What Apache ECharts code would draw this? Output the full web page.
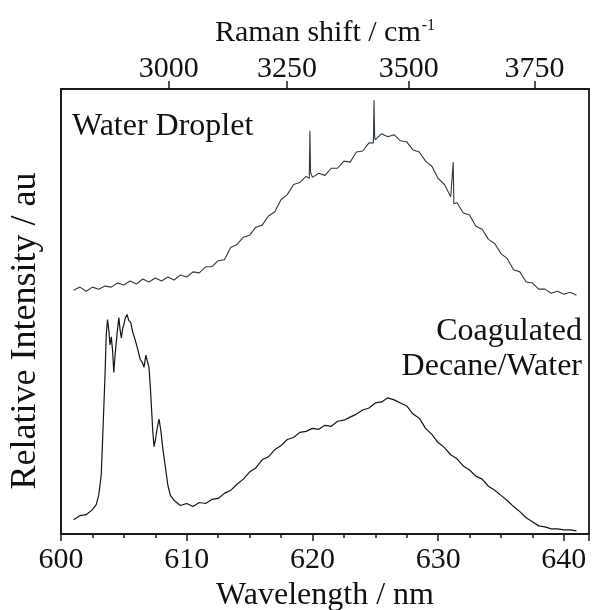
<!DOCTYPE html>
<html>
<head>
<meta charset="utf-8">
<script src="https://cdn.jsdelivr.net/npm/echarts@6/dist/echarts.min.js"></script>
<style>html,body{margin:0;padding:0;background:#fff}#c{width:593px;height:610px}</style>
</head>
<body>
<div id="c"></div>
<script>
// Water droplet spectrum (wavelength nm, relative intensity)
var waterWl = [601.0,601.5,602.0,602.5,603.0,603.5,604.0,604.5,605.0,605.5,606.0,606.5,607.0,607.5,608.0,608.5,609.0,609.5,610.0,610.5,611.0,611.5,612.0,612.5,613.0,613.5,614.0,614.5,615.0,615.5,616.0,616.5,617.0,617.5,618.0,618.5,619.0,619.5,619.75,619.8,619.85,620.0,620.5,621.0,621.5,622.0,622.5,623.0,623.5,624.0,624.5,624.85,624.9,624.95,625.0,625.5,626.0,626.5,627.0,627.5,628.0,628.5,629.0,629.5,630.0,630.5,631.0,631.15,631.2,631.25,631.5,632.0,632.5,633.0,633.5,634.0,634.5,635.0,635.5,636.0,636.5,637.0,637.5,638.0,638.5,639.0,639.5,640.0,640.5,641.0];
var waterI  = [240,243,239,243,241,244,243,247,245,249,246,251,248,252,249,253,250,255,253,258,257,263,263,269,270,282,285,292,294,302,304,313,317,329,334,344,346,352,350,397,356,351,355,353,360,360,367,366,376,377,385,385,427,391,388,394,391,393,387,386,378,376,367,362,350,344,332,333,366,325,326,316,314,303,300,290,286,276,271,260,258,248,247,241,241,237,239,236,238,235];
// Coagulated decane/water spectrum
var coagWl = [601.0,601.5,602.0,602.5,602.8,603.0,603.2,603.35,603.5,603.6,603.7,603.8,603.9,604.0,604.1,604.2,604.3,604.45,604.6,604.7,604.8,604.9,605.0,605.1,605.25,605.4,605.55,605.7,605.9,606.1,606.3,606.5,606.6,606.75,606.85,607.0,607.1,607.2,607.3,607.4,607.5,607.65,607.8,607.95,608.1,608.3,608.5,608.7,609.0,609.5,610.0,610.5,611.0,611.5,612.0,612.5,613.0,613.5,614.0,614.5,615.0,615.5,616.0,616.5,617.0,617.5,618.0,618.5,619.0,619.5,620.0,620.5,621.0,621.5,622.0,622.5,623.0,623.5,624.0,624.5,625.0,625.5,626.0,626.5,627.0,627.5,628.0,628.5,629.0,629.5,630.0,630.5,631.0,631.5,632.0,632.5,633.0,633.5,634.0,634.5,635.0,635.5,636.0,636.5,637.0,637.5,638.0,638.5,639.0,639.5,640.0,640.5,641.0];
var coagI  = [14,18,19,24,29,38,58,106,156,196,211,201,186,194,181,159,176,196,213,201,193,202,206,212,216,210,208,199,191,182,172,168,164,176,171,164,146,124,101,86,92,104,113,101,84,66,48,38,33,28,30,27,31,30,34,35,40,43,49,54,61,65,73,76,83,87,93,95,100,101,104,103,107,106,111,112,115,118,122,124,129,130,134,132,129,126,118,114,104,98,90,85,78,74,67,63,57,54,47,43,38,33,27,22,16,12,8,7,5,5,4,4,3];
// Axis ticks
var ramanTicks = [3000, 3250, 3500, 3750];
var laserWavenumber = 19432; // cm-1, excitation

function pairs(x, y) { return x.map(function (v, i) { return [v, y[i]]; }); }
var ramanPos = ramanTicks.map(function (r) { return 1e7 / (laserWavenumber - r); });

var FONT = "'Liberation Serif','Times New Roman',serif";
var AX = '#1a1a1a';
var chart = echarts.init(document.getElementById('c'), null, { renderer: 'canvas' });
chart.setOption({
  animation: false,
  backgroundColor: '#fff',
  grid: { left: 61, right: 4, top: 89, bottom: 76, outerBoundsMode: 'none', containLabel: false,
          show: true, borderColor: AX, borderWidth: 1.8, backgroundColor: 'transparent' },
  xAxis: [{
    type: 'value', min: 600, max: 642, interval: 10, position: 'bottom',
    name: 'Wavelength / nm', nameLocation: 'middle', nameGap: 43,
    nameTextStyle: { fontFamily: FONT, fontSize: 32, color: '#111' },
    axisLine: { show: true, lineStyle: { color: AX, width: 1.8 } },
    axisTick: { show: true, length: 7, lineStyle: { color: AX, width: 1.5 } },
    minorTick: { show: true, splitNumber: 4, length: 4, lineStyle: { color: AX, width: 1.5 } },
    axisLabel: { fontFamily: FONT, fontSize: 30, color: '#111', margin: 11, showMaxLabel: false },
    splitLine: { show: false }
  }, {
    type: 'value', min: 600, max: 642, position: 'top',
    name: '{a|Raman shift / cm}{s|-1}', nameLocation: 'middle', nameGap: 41,
    nameTextStyle: { fontFamily: FONT, fontSize: 30, color: '#111',
      rich: { a: { fontFamily: FONT, fontSize: 30, color: '#111' },
              s: { fontFamily: FONT, fontSize: 16, color: '#111', verticalAlign: 'top', padding: [0, 0, 0, 1] } } },
    axisLine: { show: true, lineStyle: { color: AX, width: 1.8 } },
    axisTick: { show: true, length: 8, customValues: ramanPos, lineStyle: { color: AX, width: 1.5 } },
    axisLabel: { fontFamily: FONT, fontSize: 30, color: '#111', margin: 5, customValues: ramanPos,
      formatter: function (v) { return String(Math.round(laserWavenumber - 1e7 / v)); } },
    splitLine: { show: false }
  }],
  yAxis: {
    type: 'value', min: 0, max: 438,
    axisLine: { show: true, lineStyle: { color: AX, width: 1.8 } },
    axisTick: { show: false }, axisLabel: { show: false }, splitLine: { show: false }
  },
  graphic: [
    { type: 'text', x: 26, y: 331, rotation: Math.PI / 2,
      style: { text: 'Relative Intensity / au', font: '36px ' + FONT, fill: '#111', align: 'center', verticalAlign: 'middle' } },
    { type: 'text', left: 72, top: 111, style: { text: 'Water Droplet', font: '32px ' + FONT, fill: '#111' } },
    { type: 'text', right: 11, top: 316, style: { text: 'Coagulated', font: '32px ' + FONT, fill: '#111' } },
    { type: 'text', right: 11, top: 351, style: { text: 'Decane/Water', font: '32px ' + FONT, fill: '#111' } }
  ],
  series: [{
    type: 'line', xAxisIndex: 0, data: pairs(waterWl, waterI), showSymbol: false, symbol: 'none',
    lineStyle: { color: '#2d3a44', width: 1.1 }
  }, {
    type: 'line', xAxisIndex: 0, data: pairs(coagWl, coagI), showSymbol: false, symbol: 'none',
    lineStyle: { color: '#151515', width: 1.2 }
  }]
});
</script>
</body>
</html>
